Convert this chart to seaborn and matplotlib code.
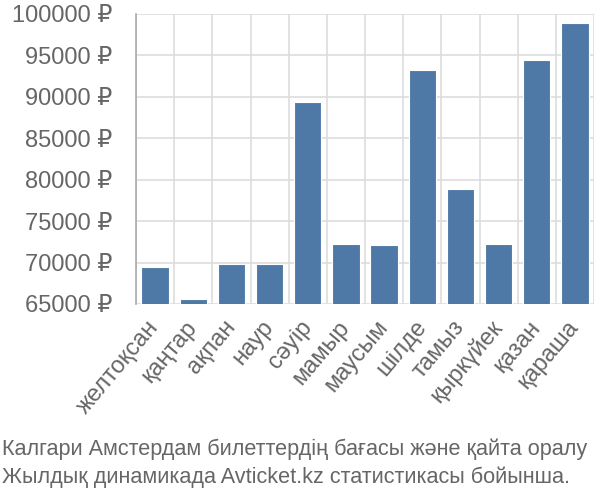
import matplotlib
matplotlib.use("Agg")
import matplotlib.pyplot as plt
import seaborn as sns
import numpy as np
import pandas as pd
from matplotlib.ticker import FixedLocator, FuncFormatter

months = ["желтоқсан", "қаңтар", "ақпан", "наур", "сәуір", "мамыр",
          "маусым", "шілде", "тамыз", "қыркүйек", "қазан", "қараша"]
prices = [69430, 65640, 69870, 69870, 89420, 72280,
          72080, 93280, 78920, 72280, 94450, 98880]
yticks = [65000, 70000, 75000, 80000, 85000, 90000, 95000, 100000]
caption_lines = ["Калгари Амстердам билеттердің бағасы және қайта оралу",
                 "Жылдық динамикада Avticket.kz статистикасы бойынша."]

sns.set_style("white")
plt.rcParams['font.family'] = ['Liberation Sans', 'DejaVu Sans']

df = pd.DataFrame({"month": months, "price": prices})

fig = plt.figure(figsize=(6, 5), dpi=100)
ax = fig.add_axes([136/600, 1-304/500, (594-136)/600, (304-14)/500])

sns.barplot(data=df, x="month", y="price", color="#4e79a7", saturation=1,
            width=0.72, edgecolor="white", linewidth=0.8, ax=ax, zorder=3)

ax.set_ylim(65000, 100000)
ax.set_xlim(-0.5, len(months) - 0.5)
ax.set_yticks(yticks)
ax.yaxis.set_major_formatter(FuncFormatter(lambda v, p: f"{int(v)} ₽"))
ax.set_xlabel("")
ax.set_ylabel("")

grid_c = "#dddddd"
ax.xaxis.set_minor_locator(FixedLocator(np.arange(-0.5, len(months), 1.0)))
ax.grid(True, axis="y", which="major", color=grid_c, linewidth=1.2, zorder=0)
ax.grid(True, axis="x", which="minor", color=grid_c, linewidth=1.2, zorder=0)
ax.grid(False, axis="x", which="major")
ax.tick_params(axis="x", which="major", length=0, pad=14)
ax.tick_params(axis="x", which="minor", length=12, color=grid_c, width=1.2)
ax.tick_params(axis="y", which="major", length=15, color=grid_c, width=1.2,
               labelsize=17, labelcolor="#666666", pad=2)
plt.setp(ax.get_xticklabels(), rotation=50, ha="right", va="center",
         rotation_mode="anchor", fontsize=17, color="#666666")
for lab in ax.get_xticklabels():
    lab.set_x(lab.get_position()[0] + 0.15)

for s in ["top", "right", "bottom"]:
    ax.spines[s].set_visible(False)
ax.spines["left"].set_color("#aaaaaa")
ax.spines["left"].set_linewidth(1.2)

for line, ypix in zip(caption_lines, [455, 483]):
    fig.text(0.003, 1 - ypix/500, line, fontsize=15.6, color="#666666",
             ha="left", va="baseline")

fig.savefig("out.png", dpi=100)
